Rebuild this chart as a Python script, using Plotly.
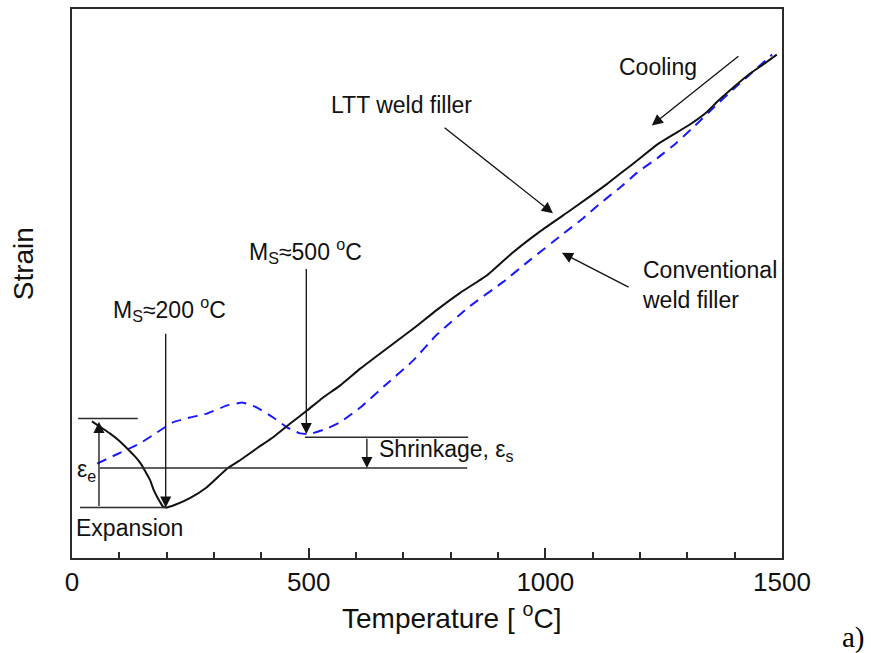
import plotly.graph_objects as go

# Strain (arbitrary units) versus temperature during cooling
ltt_temp = [42, 61, 80, 99, 116, 133, 146, 156, 165, 173, 180, 186, 192, 199, 218, 249,
            285, 328, 355, 391, 425, 461, 497, 530, 566, 609, 661, 720, 771, 820, 877, 932,
            989, 1059, 1130, 1164, 1200, 1236, 1270, 1306, 1342, 1363, 1397, 1432, 1462, 1489]
ltt_strain = [24.9, 23.8, 22.7, 21.4, 20.0, 18.5, 17.1, 15.6, 14.2, 12.3, 11.1, 10.2, 9.4, 9.2,
              9.7, 10.9, 12.9, 16.3, 17.8, 20.0, 22.0, 24.5, 26.9, 29.2, 31.4, 34.5, 37.9, 41.7,
              45.2, 48.3, 51.5, 55.7, 59.5, 63.7, 68.1, 70.4, 72.8, 75.3, 77.1, 79.0, 81.3, 83.1,
              85.7, 88.2, 90.0, 91.7]

conv_temp = [53, 95, 144, 180, 213, 249, 285, 328, 361, 391, 425, 454, 482, 503, 539, 566,
             609, 666, 720, 771, 841, 911, 968, 1037, 1080, 1116, 1158, 1194, 1236, 1278,
             1312, 1354, 1405, 1443, 1479]
conv_strain = [17.2, 18.9, 20.9, 22.9, 24.7, 25.6, 26.3, 27.8, 28.3, 27.4, 25.6, 23.8, 22.7,
               22.6, 23.6, 24.7, 27.4, 31.8, 35.9, 40.7, 45.9, 50.3, 54.3, 59.0, 61.9, 64.6,
               67.5, 70.2, 72.8, 75.7, 78.4, 81.9, 86.0, 88.9, 91.7]

x_ticks = [0, 500, 1000, 1500]

# Reference levels: (strain, temperature from, temperature to)
ref_levels = [
    (25.4, 13, 139),    # LTT strain at room temperature
    (9.2, 17, 199),     # LTT minimum at Ms
    (16.4, 59, 835),    # conventional strain at room temperature
    (22.0, 492, 837),   # conventional minimum at Ms
]

# Arrows: (tip temperature, tip strain, tail temperature, tail strain)
arrows = [
    (57, 24.8, 57, 9.2),        # expansion, eps_e
    (198, 9.2, 198, 41.1),      # Ms ~ 200 C
    (495, 22.6, 495, 52.9),     # Ms ~ 500 C
    (623, 16.4, 623, 22.0),     # shrinkage, eps_s
    (1016, 62.8, 784, 78.6),    # LTT weld filler
    (1035, 55.6, 1179, 49.2),   # conventional weld filler
    (1225, 78.8, 1411, 91.6),   # cooling direction
]

# Labels: (text, temperature, strain, x anchor)
labels = [
    ("M<sub>S</sub>≈200 <sup>o</sup>C", 205, 45.4, "center"),
    ("M<sub>S</sub>≈500 <sup>o</sup>C", 494, 55.9, "center"),
    ("ε<sub>e</sub>", 30, 16.0, "center"),
    ("Expansion", 122, 5.4, "center"),
    ("Shrinkage, ε<sub>s</sub>", 644, 19.6, "left"),
    ("LTT weld filler", 697, 82.6, "center"),
    ("Conventional<br>weld filler", 1200, 49.7, "left"),
    ("Cooling", 1238, 89.5, "center"),
]

FONT = "Liberation Sans, Arial, sans-serif"
INK = "#2b2b2b"

fig = go.Figure()
fig.add_trace(go.Scatter(
    x=conv_temp, y=conv_strain, mode="lines",
    line=dict(color="#1a1aff", width=2, dash="10px,7px", shape="spline", smoothing=0.4),
    hoverinfo="skip", showlegend=False))
fig.add_trace(go.Scatter(
    x=ltt_temp, y=ltt_strain, mode="lines",
    line=dict(color="#111111", width=2, shape="spline", smoothing=0.4),
    hoverinfo="skip", showlegend=False))

for level, t0, t1 in ref_levels:
    fig.add_shape(type="line", xref="x", yref="y", x0=t0, x1=t1, y0=level, y1=level,
                  line=dict(color=INK, width=1.5))

for tx, ty, sx, sy in arrows:
    fig.add_annotation(x=tx, y=ty, ax=sx, ay=sy, xref="x", yref="y", axref="x", ayref="y",
                       text="", showarrow=True, arrowhead=2, arrowsize=1.7, arrowwidth=1.3,
                       arrowcolor="#111111", standoff=0, startstandoff=0)

for text, tx, ty, anchor in labels:
    fig.add_annotation(x=tx, y=ty, xref="x", yref="y", text=text, showarrow=False,
                       xanchor=anchor, yanchor="middle", align="left",
                       font=dict(family=FONT, size=23, color="#111111"))

# Axis titles and panel tag
fig.add_annotation(x=0.534, xref="paper", y=-0.105, yref="paper",
                   text="Temperature [ <sup>o</sup>C]", showarrow=False,
                   xanchor="center", yanchor="middle",
                   font=dict(family=FONT, size=28, color="#111111"))
fig.add_annotation(x=-0.069, xref="paper", y=0.535, yref="paper", text="Strain",
                   textangle=-90, showarrow=False, xanchor="center", yanchor="middle",
                   font=dict(family=FONT, size=28, color="#111111"))
fig.add_annotation(x=1.100, xref="paper", y=-0.145, yref="paper", text="a)",
                   showarrow=False, xanchor="center", yanchor="middle",
                   font=dict(family="Liberation Serif, Times New Roman, serif", size=29, color="#000000"))

fig.update_xaxes(
    range=[0, 1500], tickvals=x_ticks, ticktext=[str(v) for v in x_ticks],
    ticks="inside", ticklen=10, tickwidth=1.5, tickcolor=INK,
    minor=dict(ticks="inside", dtick=100, ticklen=6, tickwidth=1.5, tickcolor=INK),
    showline=True, linecolor=INK, linewidth=2, mirror=True, showgrid=False, zeroline=False,
    tickfont=dict(family=FONT, size=26, color="#111111"),
)
fig.update_yaxes(
    range=[0, 100], showticklabels=False, ticks="",
    showline=True, linecolor=INK, linewidth=2, mirror=True, showgrid=False, zeroline=False,
)
fig.update_layout(
    width=871, height=653,
    margin=dict(l=72, r=89, t=7, b=95),
    paper_bgcolor="white", plot_bgcolor="white",
    showlegend=False,
)

fig.write_html("out.html")
